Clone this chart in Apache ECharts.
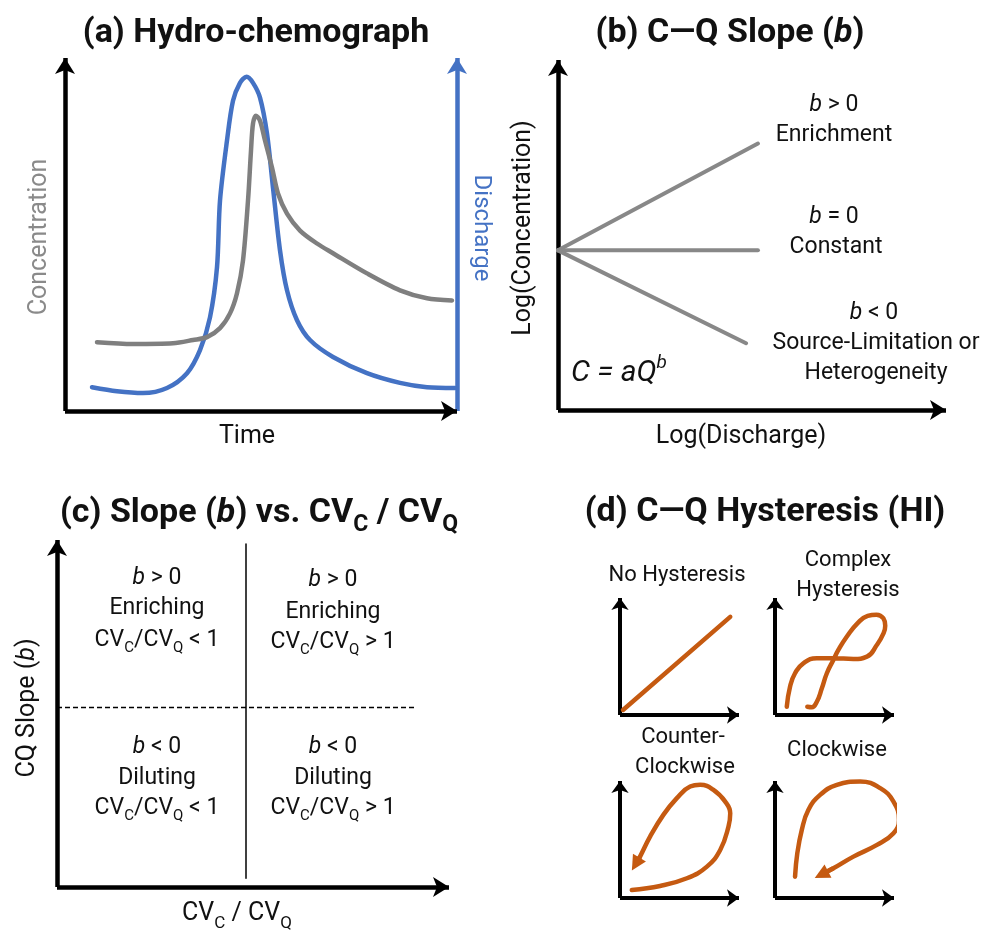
<!DOCTYPE html>
<html>
<head>
<meta charset="utf-8">
<script src="https://cdn.jsdelivr.net/npm/echarts@6/dist/echarts.min.js"></script>
<style>
html,body{margin:0;padding:0;background:#fff;}
#chart{width:982px;height:932px;}
</style>
</head>
<body>
<div id="chart"></div>
<script>
// ---------- DATA ----------
// (a) Hydro-chemograph: [time, value] on a 0-98 conceptual scale
const dischargeA = [[6.75,6.6],[13,5.5],[19.5,5.0],[25.5,6.4],[30.5,10.5],[33.75,16.9],[36.25,26.0],[38,39.9],[38.75,58.4],[40.5,75.1],[42,86.1],[43.75,91.1],[45.4,92.8],[47,91.1],[48.75,87.0],[50.5,77.0],[52,62.0],[53.75,44.6],[55.5,33.5],[58,25.2],[61.25,19.7],[67,15.0],[75.5,10.5],[83.75,7.8],[90.5,6.6],[97.5,6.4]];
const concentrationA = [[8,19.1],[17,18.6],[27,18.8],[32,19.7],[35.5,20.5],[38.75,23.0],[41.25,27.1],[43,32.7],[44.5,41.8],[45.75,58.4],[46.5,72.3],[47,79.8],[47.75,82.0],[48.75,80.6],[50,75.1],[51.75,67.6],[53.25,60.4],[55.5,54.8],[58.75,50.1],[63,46.5],[67,43.8],[75.5,38.2],[83.75,33.5],[90.5,31.3],[96.75,30.7]];
// (b) C-Q slope lines: start and end points
const slopeOrigin = [0, 44.7];
const enrichEnd = [50.5, 74.6];
const constantEnd = [50.5, 44.7];
const limitEnd = [47.5, 18.7];
// (c) quadrant dividers
const ratioOneLine = [[47.25, 2.5], [47.25, 96.9]];
const slopeZeroLine = [[0, 50.7], [89.5, 50.7]];
// (d) hysteresis loops
const noHyst = [[2.4, 4.1], [88, 79.7]];
const complexHyst = [[9.4,6.7],[12,23],[16,33.9],[22.6,42],[33.4,46.1],[46.6,46.1],[62.6,45.5],[73.4,47.4],[81.4,57],[86.5,66],[88,72.5],[86.5,78.5],[81,81.5],[74,80.5],[66,74.6],[57.4,63.7],[50.6,52.8],[46.6,44.7],[41.4,33.9],[37.4,21.7],[33.4,10.8],[29.4,6.3],[25.8,6.7]];
const ccwHyst = [[9.4,6.5],[32,9.8],[53.4,16],[69.4,25.5],[80,39],[86.6,58],[88,68.9],[84,78.3],[74.6,87.8],[64,91.9],[56,90.5],[45.4,81.1],[34.6,67.5],[24,49.8],[16,33.6],[12.5,27.5]];
const cwHyst = [[16,17.3],[17.8,36.3],[21.4,55.3],[26.6,71.5],[36,83.7],[49.4,91.9],[68,94.6],[84,89.2],[94.6,78.3],[99,63.4],[94.6,52.6],[81.4,43.1],[62.6,33.6],[46.6,24.1],[37,19]];

// ---------- STYLE ----------
const FONT = 'Roboto, "Noto Sans", "DejaVu Sans", sans-serif';
const BLUE = '#4472C4', GRAY = '#7F7F7F', ORANGE = '#C55A11', INK = '#111';

const grids = [
  {left: 65, top: 58, width: 392, height: 353},   // a
  {left: 558, top: 60, width: 388, height: 350},  // b
  {left: 57, top: 540, width: 392, height: 347},  // c
  {left: 620, top: 598, width: 119, height: 117}, // d1
  {left: 775, top: 598, width: 119, height: 117}, // d2
  {left: 620, top: 781, width: 119, height: 117}, // d3
  {left: 775, top: 781, width: 119, height: 117}  // d4
];
const gridMax = [98, 98, 98, 95, 95, 95, 95];

function axisLine(color, width, size) {
  return {show: true, symbol: ['none', 'arrow'], symbolSize: size, lineStyle: {color: color, width: width, cap: 'butt'}};
}
const xAxes = grids.map((g, i) => ({
  type: 'value', gridIndex: i, min: 0, max: gridMax[i],
  axisLine: axisLine('#000', i < 3 ? 4.5 : 4, i < 3 ? [15, 16] : [13, 12]),
  axisTick: {show: false}, axisLabel: {show: false}, splitLine: {show: false}
}));
const yAxes = grids.map((g, i) => ({
  type: 'value', gridIndex: i, min: 0, max: gridMax[i],
  axisLine: axisLine('#000', i < 3 ? 4.5 : 4, i < 3 ? [15, 16] : [13, 12]),
  axisTick: {show: false}, axisLabel: {show: false}, splitLine: {show: false}
}));
// discharge axis on the right of panel (a)
yAxes.push({
  type: 'value', gridIndex: 0, position: 'right', min: 0, max: 98,
  axisLine: axisLine(BLUE, 4.5, [15, 16]),
  axisTick: {show: false}, axisLabel: {show: false}, splitLine: {show: false}
});

function line(data, xi, yi, color, width, extra) {
  return Object.assign({
    type: 'line', data: data, xAxisIndex: xi, yAxisIndex: yi, symbol: 'none',
    silent: true, clip: false, animation: false,
    lineStyle: {color: color, width: width, cap: 'round', join: 'round'}
  }, extra || {});
}
function arrowHead(data, xi, yi) {
  const n = data.length;
  return {
    type: 'lines', coordinateSystem: 'cartesian2d', xAxisIndex: xi, yAxisIndex: yi,
    silent: true, animation: false, symbol: ['none', 'triangle'], symbolSize: 15,
    lineStyle: {color: ORANGE, width: 4.5, opacity: 1},
    data: [{coords: [data[n - 2], data[n - 1]]}]
  };
}

const series = [
  line(dischargeA, 0, 7, BLUE, 4.5, {smooth: 0.3}),
  line(concentrationA, 0, 0, GRAY, 4.5, {smooth: 0.3}),
  line([slopeOrigin, enrichEnd], 1, 1, '#888', 4),
  line([slopeOrigin, constantEnd], 1, 1, '#888', 4),
  line([slopeOrigin, limitEnd], 1, 1, '#888', 4),
  line(ratioOneLine, 2, 2, '#000', 1.5),
  line(slopeZeroLine, 2, 2, '#000', 1.5, {lineStyle: {color: '#000', width: 1.5, type: [5, 3]}}),
  line(noHyst, 3, 3, ORANGE, 4.5),
  line(complexHyst, 4, 4, ORANGE, 4.5, {smooth: 0.5}),
  line(ccwHyst, 5, 5, ORANGE, 4.5, {smooth: 0.45}),
  arrowHead(ccwHyst, 5, 5),
  line(cwHyst, 6, 6, ORANGE, 4.5, {smooth: 0.45}),
  arrowHead(cwHyst, 6, 6)
];

// ---------- TEXT ----------
function T(x, y, text, o) {
  o = o || {};
  const size = o.size || 23;
  const st = {
    text: text, x: 0, y: 0, fill: o.color || INK,
    fontSize: size, fontFamily: o.family || FONT, fontWeight: o.weight || 'normal',
    fontStyle: o.style || 'normal',
    align: o.align || 'center', verticalAlign: 'middle',
    textAlign: o.align || 'center', textVerticalAlign: 'middle',
    rich: o.rich
  };
  return {type: 'text', x: x, y: y, rotation: o.rot || 0, silent: true, style: st};
}
function subRich(mainSize, subSize, pad, weight) {
  return {
    i: {fontStyle: 'italic', fontSize: mainSize, fontFamily: FONT, fontWeight: weight || 'normal', fill: INK},
    sub: {fontSize: subSize, fontFamily: FONT, fontWeight: weight || 'normal', fill: INK, padding: [pad, 0, 0, 0]},
    sup: {fontSize: subSize, fontFamily: FONT, fontStyle: 'italic', fill: INK, padding: [0, 0, pad, 0]}
  };
}
const TB = {size: 34, weight: 'bold'};
const titleRich = subRich(34, 23, 24, 'bold');
const bodyRich = subRich(23, 15, 16);
const axisRich = subRich(25, 17, 20);

const texts = [
  T(256, 33, '(a) Hydro-chemograph', TB),
  T(730, 33, '(b) C\u2014Q Slope ({i|b})', Object.assign({rich: titleRich}, TB)),
  T(259, 513, '(c) Slope ({i|b}) vs. CV{sub|C} / CV{sub|Q}', Object.assign({rich: titleRich}, TB)),
  T(765, 512, '(d) C\u2014Q Hysteresis (HI)', TB),
  // (a)
  T(40, 237, 'Concentration', {size: 25, color: '#8a8a8a', rot: Math.PI / 2}),
  T(481, 228, 'Discharge', {size: 24, color: BLUE, rot: -Math.PI / 2}),
  T(247, 437, 'Time', {size: 25}),
  // (b)
  T(524, 228, 'Log(Concentration)', {size: 25, rot: Math.PI / 2}),
  T(741, 437, 'Log(Discharge)', {size: 25}),
  T(834, 105, '{i|b} > 0', {rich: bodyRich}),
  T(834, 135, 'Enrichment'),
  T(834, 217, '{i|b} = 0', {rich: bodyRich}),
  T(836, 247, 'Constant'),
  T(874, 313, '{i|b} < 0', {rich: bodyRich}),
  T(876, 343, 'Source-Limitation or'),
  T(876, 373, 'Heterogeneity'),
  T(571, 373, 'C = aQ{sup|b}', {size: 30, style: 'italic', align: 'left', rich: subRich(30, 19, 20)}),
  // (c)
  T(28, 708, 'CQ Slope ({i|b})', {size: 25, rot: Math.PI / 2, rich: subRich(25, 17, 20)}),
  T(237, 914, 'CV{sub|C} / CV{sub|Q}', {size: 25, rich: axisRich}),
  T(157, 578, '{i|b} > 0', {rich: bodyRich}),
  T(157, 608, 'Enriching'),
  T(157, 640, 'CV{sub|C}/CV{sub|Q} < 1', {rich: bodyRich}),
  T(333, 580, '{i|b} > 0', {rich: bodyRich}),
  T(333, 612, 'Enriching'),
  T(333, 642, 'CV{sub|C}/CV{sub|Q} > 1', {rich: bodyRich}),
  T(157, 747, '{i|b} < 0', {rich: bodyRich}),
  T(157, 778, 'Diluting'),
  T(157, 808, 'CV{sub|C}/CV{sub|Q} < 1', {rich: bodyRich}),
  T(333, 747, '{i|b} < 0', {rich: bodyRich}),
  T(333, 778, 'Diluting'),
  T(333, 808, 'CV{sub|C}/CV{sub|Q} > 1', {rich: bodyRich}),
  // (d)
  T(677, 575, 'No Hysteresis', {size: 22}),
  T(848, 560, 'Complex', {size: 22}),
  T(848, 590, 'Hysteresis', {size: 22}),
  T(683, 737, 'Counter-', {size: 22}),
  T(685, 767, 'Clockwise', {size: 22}),
  T(837, 750, 'Clockwise', {size: 22})
];

const chart = echarts.init(document.getElementById('chart'), null, {renderer: 'canvas'});
chart.setOption({
  animation: false,
  backgroundColor: '#fff',
  grid: grids,
  xAxis: xAxes,
  yAxis: yAxes,
  series: series,
  graphic: texts
});
</script>
</body>
</html>
